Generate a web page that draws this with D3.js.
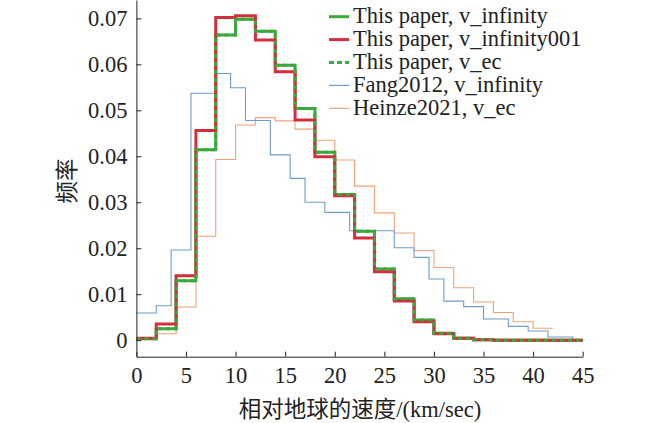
<!DOCTYPE html>
<html>
<head>
<meta charset="utf-8">
<script src="https://cdn.jsdelivr.net/npm/d3@7"></script>
<style>
  body { margin: 0; background: #fff; }
  text { font-family: "Liberation Serif", "DejaVu Serif", serif; fill: #222; }
  .cjk { font-family: "Noto Sans CJK SC", sans-serif; }
  .axis path, .axis line { stroke: #222; }
</style>
</head>
<body>
<script>
// bin edges and frequencies
const edges2 = [0, 2, 4, 6, 8, 10, 12, 14, 16, 18, 20, 22, 24, 26, 28, 30, 32, 34, 36, 38, 40, 42, 44, 45];
const greenInf = [0.0003, 0.0025, 0.0129, 0.0414, 0.0664, 0.0698, 0.0672, 0.0598, 0.0504, 0.0409, 0.0317, 0.0237,
                  0.0155, 0.0090, 0.0044, 0.0015, 0.0004, 0.0001, 0, 0, 0, 0, 0];
const redInf001 = [0.0004, 0.0035, 0.0140, 0.0456, 0.0702, 0.0706, 0.0653, 0.0584, 0.0479, 0.0399, 0.0314, 0.0222,
                   0.0149, 0.0085, 0.0040, 0.0014, 0.0004, 0.0001, 0, 0, 0, 0, 0];
const greenEc = [0.0003, 0.0025, 0.0129, 0.0414, 0.0664, 0.0698, 0.0672, 0.0598, 0.0504, 0.0409, 0.0317, 0.0237,
                 0.0155, 0.0090, 0.0044, 0.0015, 0.0004, 0.0001, 0, 0, 0, 0, 0];

const fangEdges = [0, 2, 3.5, 5.5, 8, 9.5, 11, 13.5, 15.5, 17, 19, 21.5, 26, 28, 29.5, 31, 33, 35, 37.5, 39.5, 41.5, 44, 45];
const fang = [0.0059, 0.0075, 0.0196, 0.0537, 0.0580, 0.0549, 0.0478, 0.0403, 0.0352, 0.0300, 0.0278, 0.0238,
              0.0201, 0.0180, 0.0133, 0.0085, 0.0073, 0.0046, 0.0030, 0.0020, 0.0007, 0.0001];

const heinzeEdges = [0, 2, 4, 6, 8, 10, 12, 14, 16, 18, 20, 22, 24, 26, 28, 30, 32, 34, 36, 38, 40, 42];
const heinze = [0.0003, 0.0014, 0.0072, 0.0226, 0.0393, 0.0468, 0.0484, 0.0477, 0.0459, 0.0435, 0.0392, 0.0335,
                0.0277, 0.0233, 0.0195, 0.0158, 0.0114, 0.0083, 0.0060, 0.0040, 0.0026];

const xTicks = [0, 5, 10, 15, 20, 25, 30, 35, 40, 45];
const yTicks = [0, 0.01, 0.02, 0.03, 0.04, 0.05, 0.06, 0.07];

const legendNames = ["This paper, v_infinity", "This paper, v_infinity001", "This paper, v_ec",
                     "Fang2012, v_infinity", "Heinze2021, v_ec"];

const w = 650, h = 423;
const fs = 22.5;
const svg = d3.select("body").append("svg").attr("width", w).attr("height", h);

let x = d3.scaleLinear().domain([0, 45]).range([136.4, 582.7]);
let y = d3.scaleLinear().domain([-0.0036, 0.074]).range([356.7, 0]);

// turn edges + bin values into step points
function steps(edges, vals) {
    let pts = vals.map((v, i) => [edges[i], v]);
    pts.push([edges[vals.length], vals[vals.length - 1]]);
    return pts;
}

let line = d3.line()
    .x(d => x(d[0]))
    .y(d => y(d[1]))
    .curve(d3.curveStepAfter);

const series = [
    {name: legendNames[4], pts: steps(heinzeEdges, heinze), color: "#f0a27a", width: 1.1, dash: null},
    {name: legendNames[3], pts: steps(fangEdges, fang), color: "#6f9dc9", width: 1.1, dash: null},
    {name: legendNames[0], pts: steps(edges2, greenInf), color: "#3ca83c", width: 3, dash: null},
    {name: legendNames[1], pts: steps(edges2, redInf001), color: "#d22f3c", width: 3, dash: null},
    {name: legendNames[2], pts: steps(edges2, greenEc), color: "#3ca83c", width: 3, dash: "4,4"}
];

svg.selectAll("path.series")
    .data(series)
    .enter().append("path")
    .attr("class", "series")
    .attr("d", d => line(d.pts))
    .attr("fill", "none")
    .attr("stroke", d => d.color)
    .attr("stroke-width", d => d.width)
    .attr("stroke-dasharray", d => d.dash);

// axes, ticks point inward
let xAxis = d3.axisBottom(x).tickValues(xTicks).tickSize(-5).tickPadding(10).tickSizeOuter(0);
let yAxis = d3.axisLeft(y).tickValues(yTicks).tickSize(-5).tickPadding(9).tickSizeOuter(0)
    .tickFormat(d => d === 0 ? "0" : d3.format(".2f")(d));

svg.append("g")
    .attr("class", "axis")
    .attr("transform", `translate(0,${y.range()[0]})`)
    .call(xAxis)
    .call(g => g.selectAll("text").attr("font-size", fs).attr("font-family", "Liberation Serif"));

svg.append("g")
    .attr("class", "axis")
    .attr("transform", `translate(${x.range()[0]},0)`)
    .call(yAxis)
    .call(g => g.selectAll("text").attr("font-size", fs).attr("font-family", "Liberation Serif"));

svg.append("text")
    .attr("class", "cjk")
    .attr("transform", "translate(75,181) rotate(-90)")
    .attr("text-anchor", "middle")
    .attr("font-size", fs)
    .text("频率");

svg.append("text")
    .attr("x", 360)
    .attr("y", 417)
    .attr("text-anchor", "middle")
    .attr("font-size", fs)
    .html('<tspan class="cjk">相对地球的速度</tspan>/(km/sec)');

// legend
const legOrder = [2, 3, 4, 1, 0];
const leg = svg.append("g").attr("transform", "translate(329,0)");
legOrder.forEach((si, i) => {
    let s = series[si];
    let ly = 16.7 + i * 22.9;
    leg.append("line")
        .attr("x1", 0).attr("x2", 20)
        .attr("y1", ly).attr("y2", ly)
        .attr("stroke", s.color)
        .attr("stroke-width", s.width === 3 ? 3 : 1.2)
        .attr("stroke-dasharray", s.dash ? "5,3" : null);
    leg.append("text")
        .attr("x", 24)
        .attr("y", ly + 6.5)
        .attr("font-size", fs)
        .text(s.name);
});
</script>
</body>
</html>
